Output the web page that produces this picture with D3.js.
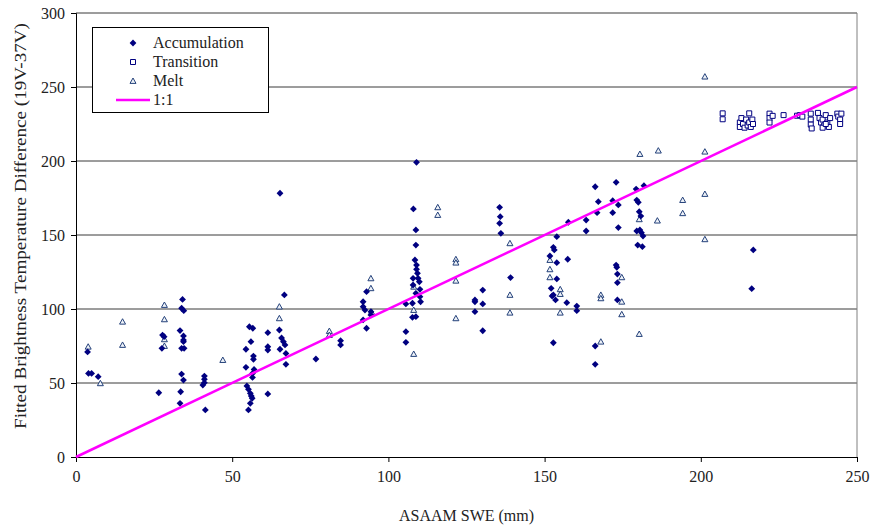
<!DOCTYPE html>
<html>
<head>
<meta charset="utf-8">
<script src="https://cdn.jsdelivr.net/npm/d3@7"></script>
<style>
  body { margin: 0; background: #fff; }
  svg text { font-family: "Liberation Serif", "Times New Roman", serif; fill: #222; }
</style>
</head>
<body>
<svg class="canvas" width="873" height="529"></svg>
<script>
// Accumulation points [SWE mm, fitted Tb difference]
const accumulation = [
  [3.7, 71], [4.0, 56.5], [5.0, 56.5], [7.1, 54.3],
  [26.5, 43.4], [27.7, 82.4], [28.2, 81.3], [27.5, 73.4],
  [34.1, 106.5], [33.8, 100.5], [34.5, 98.9], [33.3, 85.4], [34.4, 81.8], [34.4, 79], [34.4, 77.9],
  [33.8, 73.4], [34.6, 73.4], [33.8, 56], [34.4, 52], [33.5, 44.1], [33.3, 36.3],
  [41.1, 54.7], [41.1, 52.5], [41.1, 50.2], [40.6, 48.6], [41.4, 31.8],
  [55.5, 88], [56.6, 87], [56, 77.9], [54.4, 72.8], [56.8, 68.2], [56.8, 66], [54.4, 60.6], [57, 59.2],
  [56.5, 56.5], [56.5, 53.8], [54.7, 48], [55.2, 45.7], [55.8, 43], [56.1, 41.2], [56.4, 39.7],
  [55.8, 36.3], [55.2, 31.8],
  [61.4, 84], [61.4, 74.5], [61.4, 72.3], [61.4, 42.6],
  [65.3, 178.2], [66.7, 109.5], [65.1, 85.8], [65.8, 80.4], [66.4, 77.9], [66.9, 75.7], [65.3, 72.8],
  [67.2, 70], [67.2, 62.6],
  [76.8, 66.2], [84.7, 78.6], [84.7, 75.7],
  [93, 111.7], [91.9, 104.9], [91.9, 101.6], [92.5, 99.3], [94.4, 98.2], [94.4, 95.9], [91.9, 92.6], [93, 87],
  [109, 199.1], [108, 167.6], [108.8, 153.4], [108.8, 143.2], [108.5, 133.1], [109, 129.7], [109, 126.8],
  [109.3, 124.1], [109.5, 120.7], [107.9, 120.7], [109.9, 118.4], [110.1, 113.3], [107.9, 116.2],
  [108.8, 110.6], [110.1, 108.3], [110.3, 104.9], [105.6, 103.4], [107.7, 103.9], [108.8, 94.8],
  [107.7, 94.4], [105.6, 84.7], [105.6, 77.5],
  [127.7, 106.1], [127.7, 104.9], [130.2, 112.8], [130.2, 103.4], [127.7, 98.2], [130.2, 85.3],
  [135.6, 168.7], [135.8, 162.4], [135.6, 157.9], [136, 151.1], [139.1, 121.2],
  [153.9, 148.9], [152.8, 141.7], [153.1, 139.9], [151.7, 135.8], [153.9, 131.3], [153.9, 120.3],
  [152.1, 114], [152.8, 109.5], [152.4, 108.8], [153.5, 106.1], [157.4, 133.6], [157.1, 104.3],
  [160.3, 102], [160.3, 98.9], [152.8, 77.2], [157.6, 158.6], [163.3, 160.1], [163.3, 152.7],
  [166.2, 182.6], [167.2, 172.5], [166.8, 165.1], [166.2, 75], [166.2, 62.6],
  [172.9, 185.6], [171.8, 173.2], [173.6, 170.3], [171.8, 165.1], [173.6, 155], [172.9, 129.7],
  [173.1, 128.2], [173.3, 123.6], [173.3, 117.8], [173.3, 106.1],
  [179.3, 181], [181.8, 183.3], [179.5, 173.6], [180, 172.1], [180.3, 165.7], [180.8, 162.8],
  [179.5, 152.7], [180.5, 153.4], [181, 151.6], [181.5, 149.3], [179.8, 143.2], [181.3, 142.1],
  [216.8, 139.9], [216.3, 113.7]
];

const transition = [
  [207, 232.2], [207, 228.2],
  [212.5, 226], [212.5, 223], [213, 229], [213.5, 225], [214, 222.5], [214.5, 228], [215, 224],
  [215.5, 232.2], [215.5, 226], [216, 223], [216.5, 228], [216.7, 225],
  [222, 232], [222, 229], [222, 226], [223, 230.5], [226.5, 231],
  [230.8, 230.6], [231.7, 231], [232.5, 230],
  [235.2, 232], [235.2, 228], [235.2, 224.6], [235.5, 222],
  [237.5, 232.5], [238, 229], [238.5, 226], [239, 228], [239.5, 224], [240, 231], [240.5, 226],
  [241, 223], [241.4, 229], [239, 222.5], [240, 225],
  [243.7, 232], [244, 230], [244.6, 228], [245, 232], [244.6, 225]
];

const melt = [
  [3.9, 74.5], [14.9, 91.4], [14.9, 75.7], [7.8, 49.8], [28.3, 102.7], [28.3, 93], [28.3, 79.5],
  [28.3, 75], [47, 65.5], [65.1, 101.6], [65.1, 93.7], [81.1, 85.1], [81.1, 82.4], [94.4, 120.7],
  [94.4, 114], [94.6, 98], [108.1, 115], [108.1, 99.3], [108.1, 69.6], [115.8, 168.7], [115.8, 163.5],
  [121.6, 133.6], [121.6, 131.3], [121.6, 119.1], [121.6, 93.7], [138.9, 144.4], [138.9, 109.5],
  [138.9, 97.5], [151.7, 133.1], [151.7, 126.8], [151.7, 121.4], [155, 113.3], [155, 110.1],
  [155, 97.5], [168, 109.5], [168, 107.2], [168, 77.9], [174.7, 121.4], [174.7, 104.9], [174.7, 96.4],
  [180.3, 160.6], [180.3, 83.1], [180.5, 204.7], [186.4, 207], [186.1, 159.7], [194.2, 173.6],
  [194.2, 164.7], [201.3, 257], [201.3, 206.3], [201.3, 177.7], [201.3, 147.1]
];

const oneToOne = [[0, 0], [250, 250]];
const xTicks = [0, 50, 100, 150, 200, 250];
const yTicks = [0, 50, 100, 150, 200, 250, 300];

const svg = d3.select(".canvas");
const plotLeft = 76, plotRight = 857, plotTop = 13, plotBottom = 457;

const x = d3.scaleLinear().domain([0, 250]).range([plotLeft, plotRight]);
const y = d3.scaleLinear().domain([0, 300]).range([plotBottom, plotTop]);

// gridlines
svg.append("g")
  .selectAll("line")
  .data(yTicks.slice(1))
  .enter()
  .append("line")
  .attr("x1", plotLeft).attr("x2", plotRight)
  .attr("y1", (d) => y(d)).attr("y2", (d) => y(d))
  .attr("stroke", "#3a3a3a")
  .attr("stroke-width", 1);

// plot frame on right side
svg.append("line")
  .attr("x1", plotRight).attr("x2", plotRight)
  .attr("y1", plotTop).attr("y2", plotBottom)
  .attr("stroke", "#808080");

// axes
const xAxis = d3.axisBottom(x).tickValues(xTicks).tickSize(5).tickPadding(9);
const yAxis = d3.axisLeft(y).tickValues(yTicks).tickSize(5).tickPadding(6);

const gx = svg.append("g").attr("transform", `translate(0, ${plotBottom})`).call(xAxis);
const gy = svg.append("g").attr("transform", `translate(${plotLeft}, 0)`).call(yAxis);
[gx, gy].forEach((g) => {
  g.attr("font-family", null);
  g.selectAll("path, line").attr("stroke", "#000");
  g.selectAll("text")
    .style("font-family", "'Liberation Serif', serif")
    .style("font-size", "16px")
    .attr("fill", "#222");
});

// axis titles
svg.append("text")
  .attr("x", (plotLeft + plotRight) / 2)
  .attr("y", 521)
  .attr("text-anchor", "middle")
  .style("font-size", "16px")
  .text("ASAAM SWE (mm)");

svg.append("text")
  .attr("transform", "translate(26, 226) rotate(-90)")
  .attr("text-anchor", "middle")
  .attr("textLength", 406)
  .attr("lengthAdjust", "spacingAndGlyphs")
  .style("font-size", "17px")
  .text("Fitted Brightness Temperature Difference (19V-37V)");

// marker shapes
const diamond = "M0,-3.4L3.4,0L0,3.4L-3.4,0Z";
const square = "M-2.5,-2.5H2.5V2.5H-2.5Z";
const triangle = "M0,-3L3,2.4H-3Z";

svg.append("g")
  .selectAll("path")
  .data(melt)
  .enter()
  .append("path")
  .attr("d", triangle)
  .attr("transform", (d) => `translate(${x(d[0])},${y(d[1])})`)
  .attr("fill", "#eef2f8")
  .attr("stroke", "#24417a")
  .attr("stroke-width", 1);

svg.append("g")
  .selectAll("path")
  .data(transition)
  .enter()
  .append("path")
  .attr("d", square)
  .attr("transform", (d) => `translate(${x(d[0])},${y(d[1])})`)
  .attr("fill", "#fff")
  .attr("stroke", "#000080")
  .attr("stroke-width", 1);

svg.append("g")
  .selectAll("path")
  .data(accumulation)
  .enter()
  .append("path")
  .attr("d", diamond)
  .attr("transform", (d) => `translate(${x(d[0])},${y(d[1])})`)
  .attr("fill", "#000080");

// 1:1 line
svg.append("path")
  .datum(oneToOne)
  .attr("d", d3.line().x((d) => x(d[0])).y((d) => y(d[1])))
  .attr("stroke", "#ff00ff")
  .attr("stroke-width", 2.5)
  .attr("fill", "none");

// legend
const legend = svg.append("g");
legend.append("rect")
  .attr("x", 92.5).attr("y", 27.5)
  .attr("width", 176).attr("height", 85)
  .attr("fill", "#fff")
  .attr("stroke", "#000");

const legendItems = [
  { name: "Accumulation", shape: diamond, fill: "#000080", stroke: "none" },
  { name: "Transition", shape: square, fill: "#fff", stroke: "#000080" },
  { name: "Melt", shape: triangle, fill: "#eef2f8", stroke: "#24417a" },
  { name: "1:1", line: true }
];
legendItems.forEach((item, i) => {
  const cy = 43 + i * 19;
  if (item.line) {
    legend.append("line")
      .attr("x1", 116).attr("x2", 150)
      .attr("y1", cy).attr("y2", cy)
      .attr("stroke", "#ff00ff")
      .attr("stroke-width", 2.5);
  } else {
    legend.append("path")
      .attr("d", item.shape)
      .attr("transform", `translate(133,${cy})`)
      .attr("fill", item.fill)
      .attr("stroke", item.stroke);
  }
  legend.append("text")
    .attr("x", 153)
    .attr("y", cy + 5)
    .style("font-size", "16px")
    .text(item.name);
});
</script>
</body>
</html>
